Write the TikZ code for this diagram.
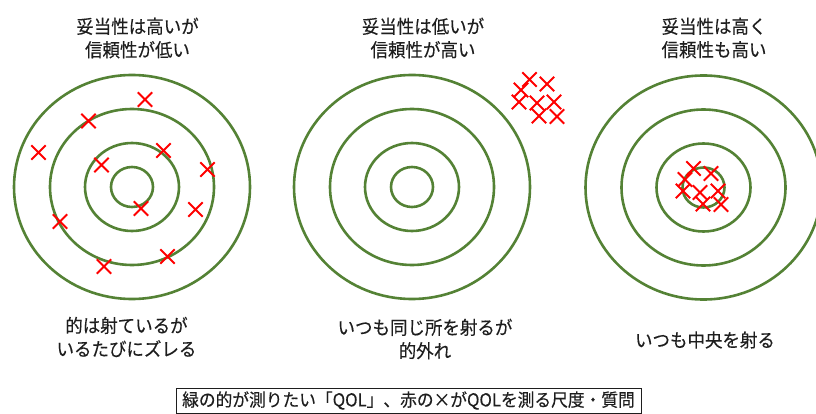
\documentclass[tikz,border=0pt]{standalone}
\usepackage{fontspec}
\usetikzlibrary{shapes.misc}
\newfontfamily\jp[FakeStretch=0.94,FakeBold=0.3]{Noto Sans CJK JP}
\definecolor{tgreen}{HTML}{548235}
\definecolor{txt}{HTML}{1E1E1E}
\begin{document}
\begin{tikzpicture}[x=1pt,y=-1pt,
  ring/.style={draw=tgreen,line width=2.6pt},
  hit/.style={cross out,draw=red,line width=1.8pt,minimum size=12.5pt,inner sep=0pt},
  lbl/.style={font=\jp\fontsize{18.6}{23.4}\selectfont,text=txt,align=center,inner sep=0pt},
  notebox/.style={draw=txt,line width=0.8pt,font=\jp\fontsize{17.8}{20}\selectfont,text=txt,
    minimum width=465pt,minimum height=25pt,inner sep=0pt}
]
\useasboundingbox (0,0) rectangle (816,414);
\clip (0,0) rectangle (816,414);

% target centres
\coordinate (t1) at (132,187);
\coordinate (t2) at (412,187);
\coordinate (t3) at (703.5,187.5);

\foreach \c in {t1,t2,t3}{
  \draw[ring] (\c) ellipse [x radius=118pt, y radius=112pt];
  \draw[ring] (\c) ellipse [x radius=82pt, y radius=78pt];
  \draw[ring] (\c) ellipse [x radius=47pt, y radius=44pt];
  \draw[ring] (\c) ellipse [x radius=21pt, y radius=20pt];
}

% titles
\node[lbl] (h1) at (137.5,38) {妥当性は高いが\\信頼性が低い};
\node[lbl] (h2) at (423,38) {妥当性は低いが\\信頼性が高い};
\node[lbl] (h3) at (714,38) {妥当性は高く\\信頼性も高い};

% hits, target 1
\node[hit] (a1) at (145,99.5) {};
\node[hit] (a2) at (88.5,121) {};
\node[hit] (a3) at (38.5,152.5) {};
\node[hit] (a4) at (101.5,165) {};
\node[hit] (a5) at (163.5,150.5) {};
\node[hit] (a6) at (207.5,169.5) {};
\node[hit] (a7) at (141,208.5) {};
\node[hit] (a8) at (195.5,209.5) {};
\node[hit] (a9) at (60,221.5) {};
\node[hit] (a10) at (167.5,256.5) {};
\node[hit] (a11) at (104,266.5) {};

% hits, target 2 (cluster off the target)
\node[hit] (b1) at (529.5,79.5) {};
\node[hit] (b2) at (547,84) {};
\node[hit] (b3) at (521,90) {};
\node[hit] (b4) at (519,102) {};
\node[hit] (b5) at (537,103) {};
\node[hit] (b6) at (554,102) {};
\node[hit] (b7) at (539,116) {};
\node[hit] (b8) at (557,116.5) {};

% hits, target 3 (cluster on the centre)
\node[hit] (c1) at (693.5,168.5) {};
\node[hit] (c2) at (711,173.5) {};
\node[hit] (c3) at (685,179.5) {};
\node[hit] (c4) at (683,191) {};
\node[hit] (c5) at (700,192.5) {};
\node[hit] (c6) at (718,191) {};
\node[hit] (c7) at (703,204) {};
\node[hit] (c8) at (721,204.5) {};

% captions
\node[lbl] (f1) at (126.5,337) {的は射ているが\\いるたびにズレる};
\node[lbl] (f2) at (425,339) {いつも同じ所を射るが\\的外れ};
\node[lbl] (f3) at (705,340) {いつも中央を射る};

% note box
\node[notebox] (note) at (408.5,400.5) {緑の的が測りたい「QOL」、赤の×がQOLを測る尺度・質問};
\end{tikzpicture}
\end{document}
